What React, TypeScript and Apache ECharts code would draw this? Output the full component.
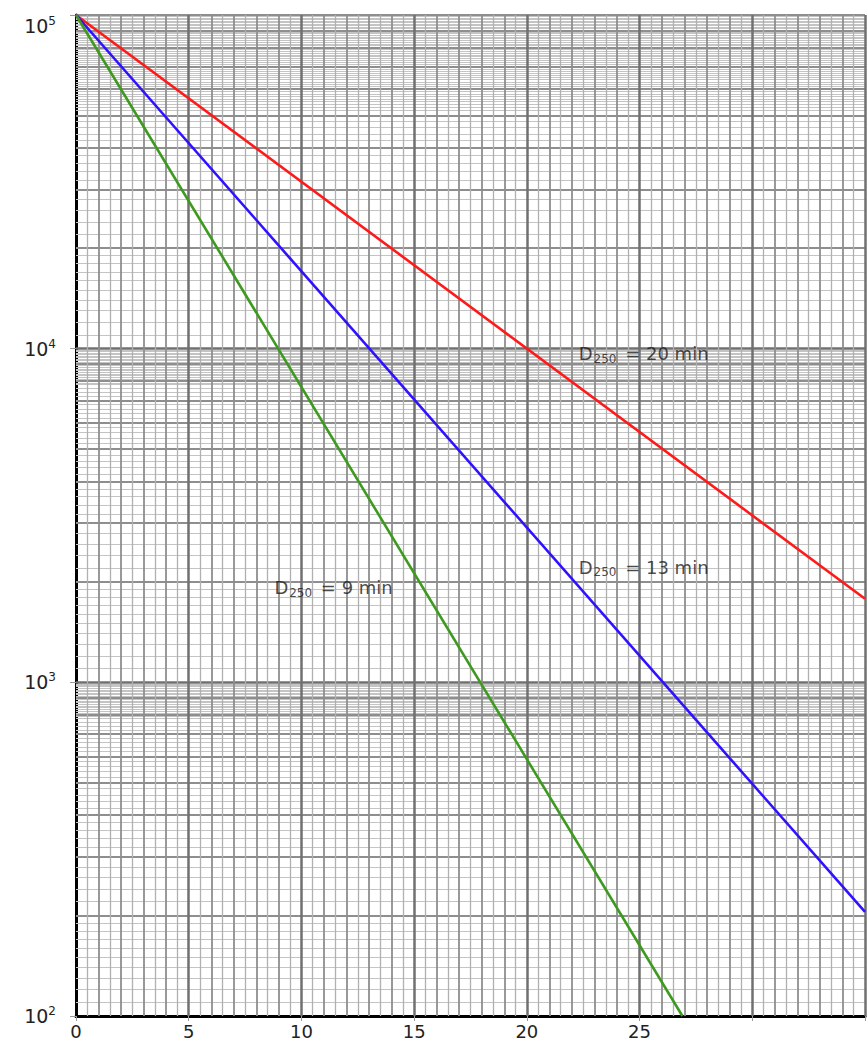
import React, { useEffect, useRef } from "react";
import * as echarts from "echarts";

// Data
const seriesNames = ["D250 = 20 min", "D250 = 13 min", "D250 = 9 min"];
const redLine: [number, number][] = [[0, 100000], [35, 1780]];
const blueLine: [number, number][] = [[0, 100000], [35, 205]];
const greenLine: [number, number][] = [[0, 100000], [26.9, 100]];
const lineColors = ["#ff1a1a", "#2f10ff", "#3d9a1f"];
const xTicks = [0, 5, 10, 15, 20, 25];
const yDecades = [100, 1000, 10000, 100000];
const labelPoints: [number, number][] = [[22.3, 9660], [22.3, 2210], [8.8, 1924]];
const labelTexts = ["20 min", "13 min", "9 min"];

const FONT = "DejaVu Sans";

function buildGridLines() {
  const lines: any[] = [];
  const fine = { color: "#c4c4c4", width: 1, type: "solid" };
  const mid = { color: "#8e8e8e", width: 1.8, type: "solid" };
  const major = { color: "#707070", width: 2.5, type: "solid" };
  // horizontal log-paper lines
  for (let d = 0; d < yDecades.length - 1; d++) {
    const b = yDecades[d];
    const denseFrom = d === yDecades.length - 2 ? 5.2 : 7.8;
    const steps: number[] = [];
    for (let m = 1.1; m < 2.0 - 1e-6; m += 0.1) steps.push(m);
    for (let m = 2.2; m < 5.0 - 1e-6; m += 0.2) steps.push(m);
    for (let m = 5.2; m < denseFrom - 1e-6; m += 0.2) steps.push(m);
    for (let m = denseFrom; m < 10.0 - 1e-6; m += 0.1) steps.push(m);
    steps.forEach((m) => {
      if (Math.abs(m - Math.round(m)) < 1e-6) return;
      lines.push({ yAxis: b * m, lineStyle: fine });
    });
    for (let k = 2; k <= 9; k++) lines.push({ yAxis: b * k, lineStyle: mid });
    if (d > 0) lines.push({ yAxis: b, lineStyle: major });
  }
  lines.push({ yAxis: 100000, lineStyle: mid });
  // vertical lines
  for (let i = 1; i <= 70; i++) {
    const x = i * 0.5;
    if (i % 10 === 0) lines.push({ xAxis: x, lineStyle: major });
    else if (i % 2 === 0) lines.push({ xAxis: x, lineStyle: mid });
    else lines.push({ xAxis: x, lineStyle: { ...fine, color: "#b0b0b0", width: 1.3 } });
  }
  return lines;
}

const supMap: Record<number, string> = { 100: "2", 1000: "3", 10000: "4", 100000: "5" };

export default function App() {
  const ref = useRef<HTMLDivElement>(null);
  useEffect(() => {
    if (!ref.current) return;
    const chart = echarts.init(ref.current, null, { renderer: "svg" });
    const lineData = [redLine, blueLine, greenLine];
    const option: any = {
      animation: false,
      backgroundColor: "#ffffff",
      grid: { left: 76, top: 15, right: 0, bottom: 32, containLabel: false },
      xAxis: {
        type: "value",
        min: 0,
        max: 35,
        interval: 5,
        splitLine: { show: false },
        axisLine: { show: true, onZero: false, lineStyle: { color: "#000", width: 3 } },
        axisTick: { show: true, length: 5, lineStyle: { color: "#999" } },
        axisLabel: {
          fontFamily: FONT,
          fontSize: 18,
          color: "#222",
          margin: 6,
          formatter: (v: number) => (xTicks.indexOf(v) >= 0 ? String(v) : ""),
        },
      },
      yAxis: {
        type: "log",
        logBase: 10,
        min: 100,
        max: 100000,
        splitLine: { show: false },
        minorTick: { show: false },
        axisLine: { show: true, onZero: false, lineStyle: { color: "#000", width: 3 } },
        axisTick: { show: true, length: 6, lineStyle: { color: "#999" } },
        axisLabel: {
          margin: 20,
          verticalAlignMaxLabel: "top",
          formatter: (v: number) => {
            const key = Math.round(v);
            const s = supMap[key];
            return s ? `{b|10}{s|${s}}` : "";
          },
          rich: {
            b: { fontFamily: FONT, fontSize: 19, color: "#222", lineHeight: 22 },
            s: { fontFamily: FONT, fontSize: 12, color: "#222", verticalAlign: "top", lineHeight: 22, padding: [0, 0, 9, 0] },
          },
        },
      },
      series: [
        {
          type: "line",
          name: "grid",
          z: 1,
          silent: true,
          symbol: "none",
          data: [[0, 100000]],
          lineStyle: { width: 0 },
          markLine: {
            silent: true,
            animation: false,
            symbol: ["none", "none"],
            label: { show: false },
            emphasis: { disabled: true },
            data: buildGridLines(),
          },
        },
        ...lineData.map((d, i) => ({
          type: "line",
          name: seriesNames[i],
          z: 5,
          symbol: "none",
          data: d,
          lineStyle: { color: lineColors[i], width: 2.6 },
        })),
        {
          type: "scatter",
          name: "labels",
          z: 6,
          symbolSize: 0,
          data: labelPoints.map((p, i) => ({ value: p, txt: labelTexts[i] })),
          label: {
            show: true,
            position: "right",
            distance: 0,
            formatter: (p: any) => `{d|D}{s|250}{d| = ${labelTexts[p.dataIndex]}}`,
            rich: {
              d: { fontFamily: FONT, fontSize: 18, color: "#1a1a1a", lineHeight: 22 },
              s: { fontFamily: FONT, fontSize: 12, color: "#1a1a1a", lineHeight: 22, verticalAlign: "bottom", padding: [6, 3, 0, 1] },
            },
          },
        },
      ],
    };
    chart.setOption(option);
    return () => chart.dispose();
  }, []);
  return (
    <div
      ref={ref}
      style={{ position: "fixed", left: 0, top: 0, width: 868, height: 1048, background: "#fff" }}
    />
  );
}
